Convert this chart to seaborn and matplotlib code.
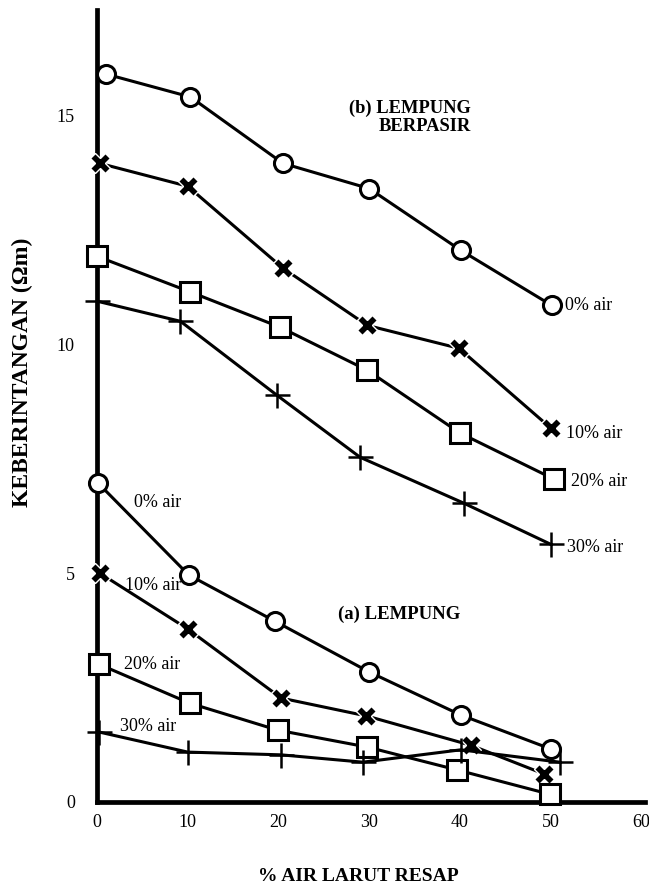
import matplotlib
matplotlib.use("Agg")
import matplotlib.pyplot as plt
import seaborn as sns
import pandas as pd

sns.set_theme(style="white")
plt.rcParams['font.family'] = ['Liberation Serif', 'DejaVu Serif']

# ---------------- data ----------------
# (b) LEMPUNG BERPASIR
b0_x = [1.0, 10.3, 20.5, 30.0, 40.1, 50.1]
b0_y = [15.9, 15.4, 13.95, 13.4, 12.05, 10.85]
b10_x = [0.3, 10.0, 20.5, 29.8, 39.9, 50.0]
b10_y = [13.95, 13.45, 11.66, 10.41, 9.91, 8.17]
b20_x = [0.0, 10.3, 20.2, 29.8, 40.0, 50.4]
b20_y = [11.92, 11.14, 10.37, 9.43, 8.06, 7.05]
b30_x = [0.0, 9.2, 19.8, 29.0, 40.4, 50.0]
b30_y = [10.94, 10.5, 8.89, 7.53, 6.53, 5.63]
# (a) LEMPUNG
a0_x = [0.1, 10.1, 19.6, 30.0, 40.1, 50.0]
a0_y = [6.97, 4.96, 3.95, 2.84, 1.9, 1.16]
a10_x = [0.3, 10.0, 20.3, 29.7, 41.2, 49.3]
a10_y = [5.0, 3.78, 2.27, 1.88, 1.24, 0.61]
a20_x = [0.2, 10.2, 19.9, 29.8, 39.7, 49.9]
a20_y = [3.01, 2.16, 1.57, 1.2, 0.7, 0.17]
a30_x = [0.2, 10.0, 20.3, 29.3, 40.1, 51.0]
a30_y = [1.53, 1.09, 1.03, 0.87, 1.14, 0.87]

x_ticks = [0, 10, 20, 30, 40, 50, 60]
y_ticks = [0, 5, 10, 15]

series = [
    (b0_x, b0_y, "o"), (b10_x, b10_y, "X"), (b20_x, b20_y, "s"), (b30_x, b30_y, "+"),
    (a0_x, a0_y, "o"), (a10_x, a10_y, "X"), (a20_x, a20_y, "s"), (a30_x, a30_y, "+"),
]

fig = plt.figure(figsize=(6.49, 8.85), dpi=100)
ax = fig.add_axes([97/649, 1 - 802/885, 548/649, 792/885])

for xs, ys, m in series:
    df = pd.DataFrame({"x": xs, "y": ys})
    if m == "o":
        kw = dict(marker="o", markersize=13, markerfacecolor="white",
                  markeredgecolor="black", markeredgewidth=2.2)
    elif m == "s":
        kw = dict(marker="s", markersize=14, markerfacecolor="white",
                  markeredgecolor="black", markeredgewidth=2.2)
    elif m == "X":
        kw = dict(marker="X", markersize=15, markerfacecolor="black",
                  markeredgecolor="white", markeredgewidth=1.0)
    else:
        kw = dict(marker="+", markersize=18, markeredgecolor="black",
                  markeredgewidth=1.8)
    sns.lineplot(data=df, x="x", y="y", ax=ax, color="black", linewidth=2.2,
                 sort=False, estimator=None, clip_on=False, zorder=3, **kw)

ax.set_xlim(0, 60.4)
ax.set_ylim(0, 17.3)
ax.set_xticks(x_ticks)
ax.set_yticks(y_ticks)
ax.set_xticklabels([str(v) for v in x_ticks], fontsize=13)
ax.set_yticklabels([str(v) for v in y_ticks], fontsize=13)
ax.tick_params(axis="x", direction="inout", length=13, width=2, pad=2, colors="black")
ax.tick_params(axis="y", direction="out", length=14, width=2, pad=2, colors="black")

for side in ["top", "right"]:
    ax.spines[side].set_visible(False)
for side in ["left", "bottom"]:
    ax.spines[side].set_linewidth(3.4)
    ax.spines[side].set_color("black")

ax.set_xlabel("% AIR LARUT RESAP", fontsize=14, fontweight="bold", color="black")
ax.xaxis.set_label_coords(0.476, -0.083)
ax.xaxis.label.set_va("top")
ax.set_ylabel("KEBERINTANGAN (Ωm)", fontsize=17, fontweight="bold", color="black")
ax.yaxis.set_label_coords(-0.117, 0.542)

tkw = dict(fontsize=13, color="black", va="center")
ax.text(51.6, 10.85, "0% air", ha="left", **tkw)
ax.text(51.7, 8.06, "10% air", ha="left", **tkw)
ax.text(52.2, 6.99, "20% air", ha="left", **tkw)
ax.text(51.8, 5.55, "30% air", ha="left", **tkw)
ax.text(4.1, 6.55, "0% air", ha="left", **tkw)
ax.text(3.1, 4.74, "10% air", ha="left", **tkw)
ax.text(3.0, 3.01, "20% air", ha="left", **tkw)
ax.text(2.5, 1.64, "30% air", ha="left", **tkw)
ax.text(41.2, 14.95, "(b) LEMPUNG\nBERPASIR", ha="right", va="center",
        multialignment="right", fontsize=13.3, fontweight="bold", color="black",
        linespacing=1.1)
ax.text(26.6, 4.1, "(a) LEMPUNG", ha="left", va="center", fontsize=13.5,
        fontweight="bold", color="black")

fig.savefig("out.png", dpi=100)
